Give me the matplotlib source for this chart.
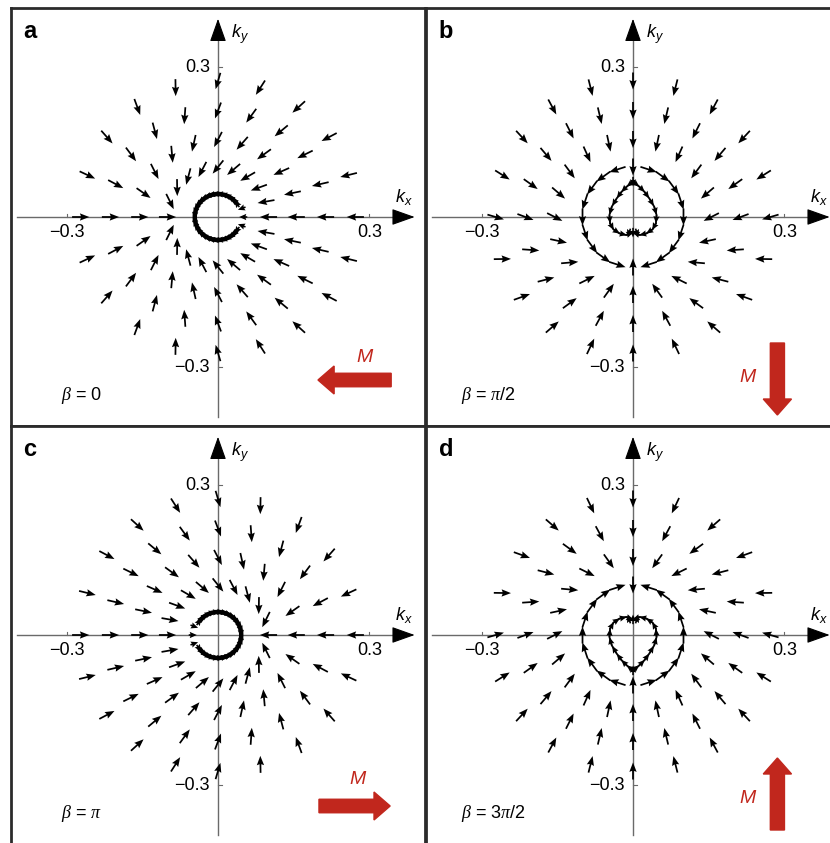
import numpy as np
import matplotlib
matplotlib.use("Agg")
import matplotlib.pyplot as plt
from matplotlib.patches import Arc

plt.rcParams['font.family'] = ['Liberation Sans', 'DejaVu Sans']
plt.rcParams['mathtext.fontset'] = 'custom'
plt.rcParams['mathtext.it'] = 'Liberation Serif:italic'
plt.rcParams['mathtext.rm'] = 'Liberation Serif'
plt.rcParams['mathtext.sf'] = 'Liberation Sans:italic'

# ---------------- data ----------------
PANEL_LETTERS = ['a', 'b', 'c', 'd']
BETA_PI = [0.0, 0.5, 1.0, 1.5]               # beta in units of pi
BETA_LABELS = [r'$\beta$ = 0', r'$\beta$ = $\pi$/2', r'$\beta$ = $\pi$', r'$\beta$ = 3$\pi$/2']
RING_RADII = [0.10, 0.155, 0.213, 0.272]      # sampling rings of the spin texture
RING_ANGLES_DEG = [0, 18, 36, 54, 72, 90, 108, 126, 144, 162,
                   180, 198, 216, 234, 252, 270, 288, 306, 324, 342]
CONVERGE_SHIFT = 0.08                         # arrows converge towards this point along M
INNER_CIRCLE_R = 0.046                        # closed contour for beta = 0, pi
INNER_CIRCLE_ANGLES_DEG = [35, 45, 55, 65, 75, 85, 95, 105, 115, 125, 135, 145,
                           155, 165, 175, 185, 195, 205, 215, 225, 235, 245, 255,
                           265, 275, 285, 295, 305, 315, 325]
# teardrop contour for beta = pi/2 (left half, top -> bottom); mirrored in x, flipped for 3pi/2
TEAR_X = [0.0, -0.0125, -0.0224, -0.0322, -0.042, -0.0467, -0.0454, -0.0388, -0.027, -0.0138, 0.0]
TEAR_Y = [0.0707, 0.0607, 0.0507, 0.0373, 0.0207, 0.004, -0.0127, -0.0247, -0.0327, -0.036, -0.0313]
TICK_VALUES = [-0.3, 0.3]
TICK_LABELS = ['\u22120.3', '0.3']

# ---------------- layout ----------------
W, H = 830, 843
fig = plt.figure(figsize=(W / 100, H / 100), dpi=100)
origins_px = [(218, 217), (633, 217), (218, 635), (633, 635)]
XL, YL = 0.41, 0.418
AW, AH = 414, 418

ARROW_RED = '#c1271d'
L_GRID = 0.034
L_SMALL = 0.016

def quiv(ax, X, Y, U, V, small=False):
    if small:
        ax.quiver(X, Y, U, V, angles='xy', scale_units='xy', scale=1, pivot='middle',
                  width=0.0038, headwidth=4.0, headlength=4.5, headaxislength=4.0,
                  color='black', zorder=4)
    else:
        ax.quiver(X, Y, U, V, angles='xy', scale_units='xy', scale=1, pivot='middle',
                  width=0.0042, headwidth=4.2, headlength=5.4, headaxislength=4.8,
                  color='black', zorder=4)

for i, (letter, bpi, blab, (ox, oy)) in enumerate(zip(PANEL_LETTERS, BETA_PI, BETA_LABELS, origins_px)):
    left = ox - AW / 2
    top = oy - AH / 2
    ax = fig.add_axes([left / W, 1 - (top + AH) / H, AW / W, AH / H])
    ax.set_xlim(-XL, XL)
    ax.set_ylim(-YL, YL)
    ax.set_xticks([]); ax.set_yticks([])
    for s in ax.spines.values():
        s.set_linewidth(2.0)
        s.set_color('#2b2b2b')

    beta = bpi * np.pi
    M = np.round(np.array([-np.cos(beta), -np.sin(beta)]), 6)
    k0 = CONVERGE_SHIFT * M

    # coordinate axes
    ax.plot([-0.398, 0.37], [0, 0], color='#6a6a6a', lw=1.0, zorder=2)
    ax.plot([0, 0], [-0.40, 0.37], color='#6a6a6a', lw=1.0, zorder=2)
    ax.annotate('', xy=(0.395, 0), xytext=(0.36, 0),
                arrowprops=dict(arrowstyle='-|>,head_length=0.9,head_width=0.32',
                                color='black', lw=0.8, mutation_scale=16), zorder=3)
    ax.annotate('', xy=(0, 0.402), xytext=(0, 0.36),
                arrowprops=dict(arrowstyle='-|>,head_length=0.9,head_width=0.32',
                                color='black', lw=0.8, mutation_scale=16), zorder=3)
    for tv, tl in zip(TICK_VALUES, TICK_LABELS):
        ax.plot([tv, tv], [0, 0.007], color='#6a6a6a', lw=0.8)
        ax.plot([0, 0.007], [tv, tv], color='#6a6a6a', lw=0.8)
        ax.text(tv, -0.031, tl, ha='center', va='center', fontsize=13)
        ax.text(-0.016, tv, tl, ha='right', va='center', fontsize=13)
    ax.text(0.026, 0.366, r'$\mathsf{k_y}$', fontsize=13, ha='left', va='center')
    ax.text(0.35, 0.04, r'$\mathsf{k_x}$', fontsize=13, ha='left', va='center')
    ax.text(-0.385, 0.37, letter, fontsize=17, fontweight='bold', ha='left', va='center')
    bx = -0.31 if i in (0, 2) else -0.34
    ax.text(bx, -0.358, blab, fontsize=13, ha='left', va='center')

    # grid arrows
    X, Y, U, V = [], [], [], []
    for r in RING_RADII:
        for a in RING_ANGLES_DEG:
            th = np.deg2rad(a)
            p = np.array([r * np.cos(th), r * np.sin(th)])
            d = k0 - p
            d = d / np.linalg.norm(d)
            if r == RING_RADII[0] and i in (1, 3):
                khat = p / r
                if abs(khat @ M) < 0.99:
                    t = np.array([-np.sin(th), np.cos(th)])
                    if t @ M < 0:
                        t = -t
                    d = t
            X.append(p[0]); Y.append(p[1]); U.append(L_GRID * d[0]); V.append(L_GRID * d[1])
    quiv(ax, X, Y, U, V)

    # inner contour arrows
    X, Y, U, V = [], [], [], []
    if i in (0, 2):
        sgn = 1 if M[0] < 0 else -1
        for a in INNER_CIRCLE_ANGLES_DEG:
            th = np.deg2rad(a) if sgn == 1 else np.pi - np.deg2rad(a)
            p = INNER_CIRCLE_R * np.array([np.cos(th), np.sin(th)])
            t = np.array([-np.sin(th), np.cos(th)])
            if t @ M < 0:
                t = -t
            X.append(p[0]); Y.append(p[1]); U.append(L_SMALL * t[0]); V.append(L_SMALL * t[1])
        # arrows at the open side pointing inward
        for a in (-20, 0, 20):
            th = np.deg2rad(a) if sgn == 1 else np.pi - np.deg2rad(a)
            p = (INNER_CIRCLE_R + 0.004) * np.array([np.cos(th), np.sin(th)])
            d = -p / np.linalg.norm(p)
            X.append(p[0]); Y.append(p[1]); U.append(L_SMALL * d[0]); V.append(L_SMALL * d[1])
        a0 = INNER_CIRCLE_ANGLES_DEG[0] if sgn == 1 else 180 - INNER_CIRCLE_ANGLES_DEG[-1]
        a1 = INNER_CIRCLE_ANGLES_DEG[-1] if sgn == 1 else 180 - INNER_CIRCLE_ANGLES_DEG[0]
        ax.add_patch(Arc((0, 0), 2 * INNER_CIRCLE_R, 2 * INNER_CIRCLE_R, theta1=a0, theta2=a1,
                         lw=3.2, color='black', zorder=3))
    else:
        fy = 1 if M[1] < 0 else -1
        tx = np.array(TEAR_X); ty = np.array(TEAR_Y) * fy
        for sx in (1, -1):
            xs = tx * sx
            mx = (xs[1:] + xs[:-1]) / 2; my = (ty[1:] + ty[:-1]) / 2
            dx = np.diff(xs); dy = np.diff(ty)
            n = np.hypot(dx, dy)
            for px, py, ux, uy, nn in zip(mx, my, dx, dy, n):
                X.append(px); Y.append(py); U.append(L_SMALL * ux / nn); V.append(L_SMALL * uy / nn)
            ax.plot(xs, ty, color='black', lw=1.3, zorder=3)
        # cusp and convergence point
        X += [0, 0, 0.008, -0.008]; Y += [ty[0], ty[-1], ty[-1], ty[-1]]
        U += [0, 0, 0.006, -0.006]
        V += [-L_SMALL * fy * 1.2, -L_SMALL * fy * 1.2, -L_SMALL * fy, -L_SMALL * fy]
    quiv(ax, X, Y, U, V, small=True)

    # magnetization arrow
    if i == 0:
        ax.arrow(0.343, -0.326, -0.113, 0, width=0.027, head_width=0.056, head_length=0.032,
                 color=ARROW_RED, zorder=5)
        ax.text(0.29, -0.282, 'M', color=ARROW_RED, fontsize=14, style='italic', ha='center', va='center')
    elif i == 2:
        ax.arrow(0.2, -0.342, 0.109, 0, width=0.027, head_width=0.056, head_length=0.032,
                 color=ARROW_RED, zorder=5)
        ax.text(0.276, -0.29, 'M', color=ARROW_RED, fontsize=14, style='italic', ha='center', va='center')
    elif i == 1:
        ax.arrow(0.286, -0.252, 0, -0.112, width=0.028, head_width=0.056, head_length=0.032,
                 color=ARROW_RED, zorder=5)
        ax.text(0.227, -0.322, 'M', color=ARROW_RED, fontsize=14, style='italic', ha='center', va='center')
    else:
        ax.arrow(0.286, -0.39, 0, 0.112, width=0.028, head_width=0.056, head_length=0.032,
                 color=ARROW_RED, zorder=5)
        ax.text(0.227, -0.326, 'M', color=ARROW_RED, fontsize=14, style='italic', ha='center', va='center')

fig.savefig('out.png', dpi=100)
